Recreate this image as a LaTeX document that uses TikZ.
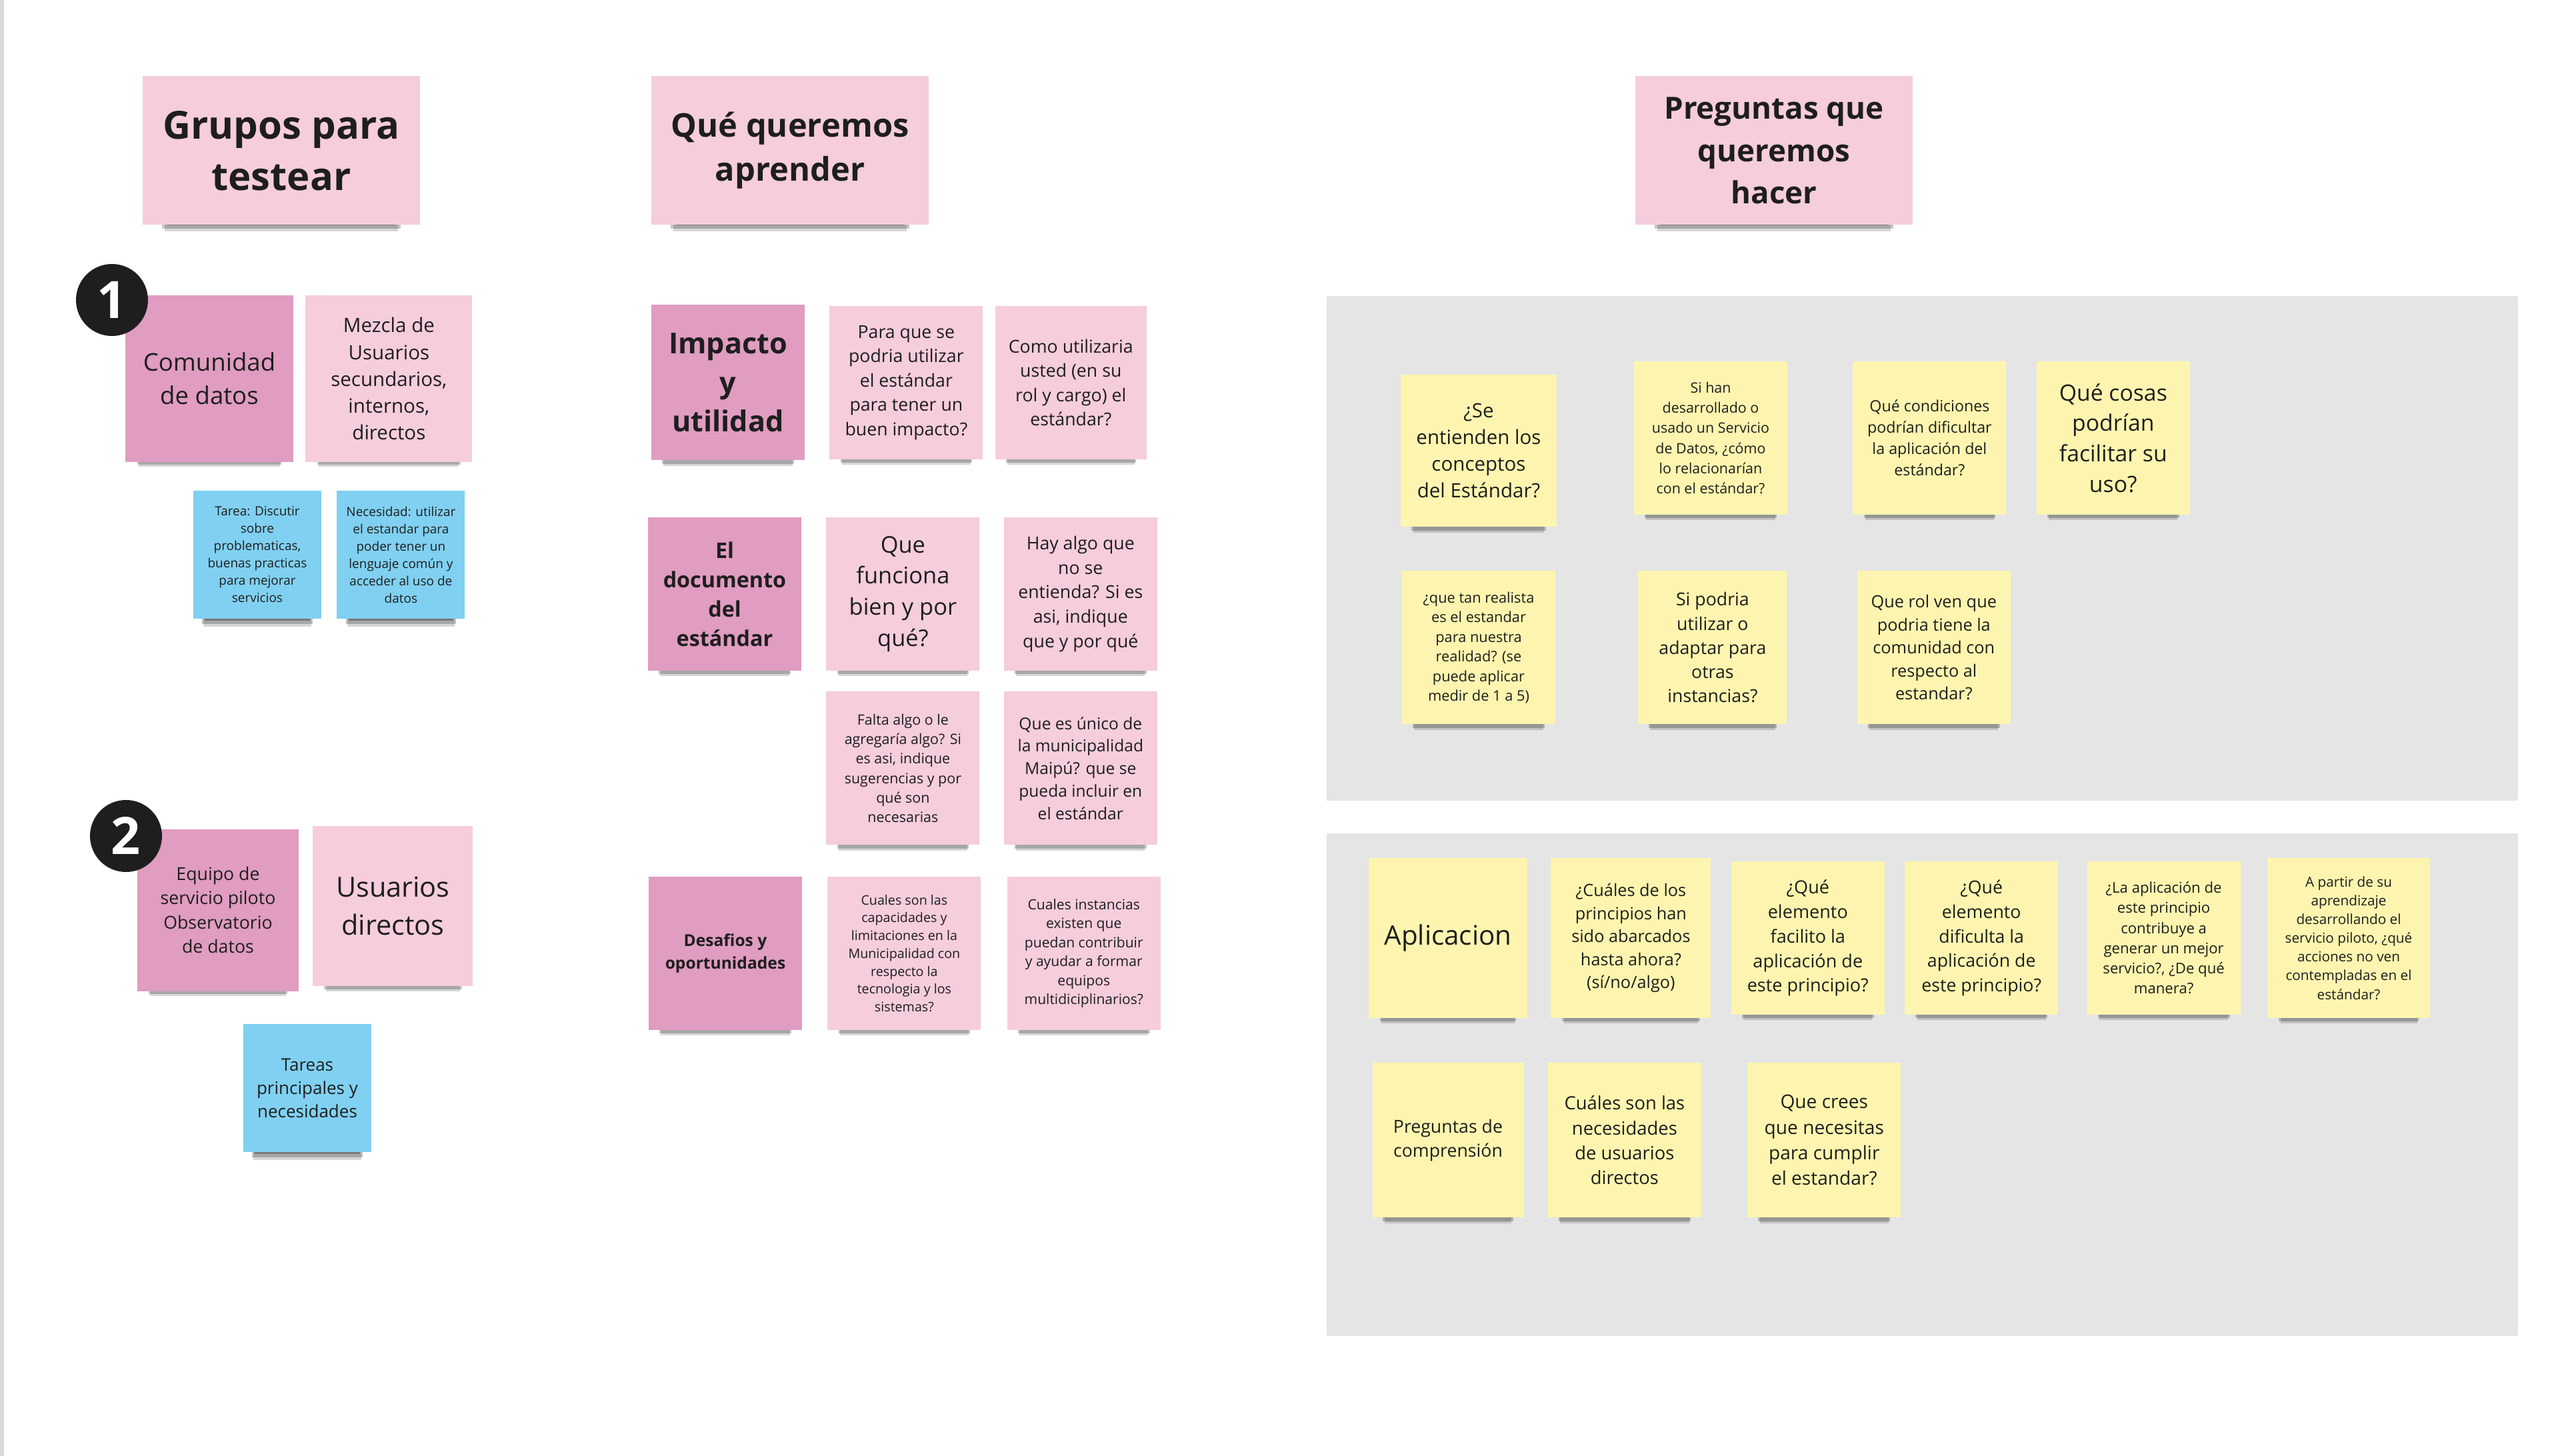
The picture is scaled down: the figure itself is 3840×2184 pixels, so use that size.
\documentclass[tikz,border=0pt]{standalone}
\usepackage{fontspec}
\setmainfont{Open Sans}
\usepackage{xcolor}
\usepackage{tikz}
\usetikzlibrary{shapes,positioning,shadows}
\definecolor{ink}{HTML}{1E1E1E}
\definecolor{notepink}{HTML}{F5CDDC}
\definecolor{noterose}{HTML}{E09CC1}
\definecolor{noteblue}{HTML}{80D0F1}
\definecolor{noteyellow}{HTML}{FDF5AF}
\definecolor{panelgray}{HTML}{E5E5E5}
\definecolor{edgegray}{HTML}{DADADA}
\newcommand{\fsz}[2]{\fontsize{#1}{#2}\selectfont}

\begin{document}
\begin{tikzpicture}[
    x=0.1mm, y=-0.1mm,
    node distance=2mm and 2mm,
    sticky/.style={rectangle, align=center, inner sep=0pt, text=ink, minimum width=23mm, minimum height=23mm,
        drop shadow={shadow xshift=0mm, shadow yshift=-3.2mm, shadow scale=0.84, fill=black, opacity=0.16},
        drop shadow={shadow xshift=0mm, shadow yshift=-2.5mm, shadow scale=0.86, fill=black, opacity=0.22},
        drop shadow={shadow xshift=0mm, shadow yshift=-2.5mm, shadow scale=0.82, fill=black, opacity=0.28}},
    pinknote/.style={sticky, fill=notepink},
    rosenote/.style={sticky, fill=noterose},
    bluenote/.style={sticky, fill=noteblue, minimum width=19.2mm, minimum height=19.2mm},
    yellownote/.style={sticky, fill=noteyellow},
    headnote/.style={pinknote, minimum width=41.6mm, minimum height=22.3mm},
    badge/.style={circle, fill=ink, text=white, minimum size=10.8mm, inner sep=0pt, font=\bfseries\fsz{22}{22}},
    panel/.style={rectangle, fill=panelgray, inner sep=0pt, anchor=north west},
]

% Background
\fill[white] (0,0) rectangle (3840,2184);
\fill[edgegray] (0,0) rectangle (6,2184);
\useasboundingbox (0,0) rectangle (3840,2184);

% Grupos para testear
\node[headnote, font=\bfseries\fsz{16.5}{22}] (tit1) at (422,226) {Grupos para\\testear};

% Grupo 1
\node[rosenote, minimum width=25.2mm, minimum height=25mm, font=\fsz{10.4}{14.2}] (com) at (314,568) {Comunidad\\de datos};
\node[pinknote, right=1.7mm of com, minimum width=25mm, minimum height=25mm, font=\fsz{8.4}{11.4}] (mez) {Mezcla de\\Usuarios\\secundarios,\\internos,\\directos};
\node[bluenote, font=\fsz{5.4}{7.4}] (tar) at (386,832) {Tarea: Discutir\\sobre\\problematicas,\\buenas practicas\\para mejorar\\servicios};
\node[bluenote, right=2.2mm of tar, font=\fsz{5.4}{7.4}] (nec) {Necesidad: utilizar\\el estandar para\\poder tener un\\lenguaje común y\\acceder al uso de\\datos};
\node[badge] (one) at (168,450) {1};

% Grupo 2
\node[rosenote, minimum width=24.2mm, minimum height=24.3mm, font=\fsz{7.6}{10.4}] (equ) at (327,1365) {Equipo de\\servicio piloto\\Observatorio\\de datos};
\node[pinknote, right=2mm of equ, yshift=0.6mm, minimum width=24mm, minimum height=24mm, font=\fsz{11.8}{16}] (usu) {Usuarios\\directos};
\node[bluenote, font=\fsz{7.4}{10}] (tas) at (461,1632) {Tareas\\principales y\\necesidades};
\node[badge] (two) at (189,1254) {2};

% Qué queremos aprender
\node[headnote, font=\bfseries\fsz{13.9}{18.8}] (tit2) at (1185,226) {Qué queremos\\aprender};

% Impacto y utilidad
\node[rosenote, minimum height=23.3mm, font=\bfseries\fsz{12.3}{16.7}] (imp) at (1092,574) {Impacto\\y\\utilidad};
\node[pinknote, right=3.6mm of imp, font=\fsz{7.6}{10.4}] (par) {Para que se\\podria utilizar\\el estándar\\para tener un\\buen impacto?};
\node[pinknote, right=1.7mm of par, minimum width=22.7mm, font=\fsz{7.6}{10.4}] (cmo) {Como utilizaria\\usted (en su\\rol y cargo) el\\estándar?};

% El documento del estándar
\node[rosenote, font=\bfseries\fsz{9.2}{12.5}] (doc) at (1087,891) {El\\documento\\del\\estándar};
\node[pinknote, right=3.6mm of doc, font=\fsz{9.8}{13.3}] (fun) {Que\\funciona\\bien y por\\qué?};
\node[pinknote, right=3.5mm of fun, font=\fsz{7.6}{10.4}] (hay) {Hay algo que\\no se\\entienda? Si es\\asi, indique\\que y por qué};
\node[pinknote, below=3mm of fun, font=\fsz{6.1}{8.3}] (fal) {Falta algo o le\\agregaría algo? Si\\es asi, indique\\sugerencias y por\\qué son\\necesarias};
\node[pinknote, below=3mm of hay, font=\fsz{7}{9.6}] (uni) {Que es único de\\la municipalidad\\Maipú? que se\\pueda incluir en\\el estándar};

% Desafios y oportunidades
\node[rosenote, font=\bfseries\fsz{7}{9.5}] (des) at (1088,1430) {Desafios y\\oportunidades};
\node[pinknote, right=3.7mm of des, font=\fsz{5.6}{7.6}] (cap) {Cuales son las\\capacidades y\\limitaciones en la\\Municipalidad con\\respecto la\\tecnologia y los\\sistemas?};
\node[pinknote, right=3.8mm of cap, font=\fsz{6}{8.1}] (ins) {Cuales instancias\\existen que\\puedan contribuir\\y ayudar a formar\\equipos\\multidiciplinarios?};

% Preguntas que queremos hacer
\node[headnote, font=\bfseries\fsz{13}{18}] (tit3) at (2661,226) {Preguntas que\\queremos\\hacer};

% Panels
\node[panel, minimum width=178.7mm, minimum height=75.7mm] (pnla) at (1989,443) {};
\node[panel, minimum width=178.7mm, minimum height=75.4mm] (pnlb) at (1989,1249) {};

% Panel A notes
\node[yellownote, minimum width=23.4mm, minimum height=22.8mm, font=\fsz{8.4}{11.4}] (qa) at (2218,676) {¿Se\\entienden los\\conceptos\\del Estándar?};
\node[yellownote, font=\fsz{6.1}{8.6}] (qb) at (2566,657) {Si han\\desarrollado o\\usado un Servicio\\de Datos, ¿cómo\\lo relacionarían\\con el estándar?};
\node[yellownote, right=9.7mm of qb, font=\fsz{6.6}{9.1}] (qc) {Qué condiciones\\podrían dificultar\\la aplicación del\\estándar?};
\node[yellownote, right=4.4mm of qc, font=\fsz{9.6}{13}] (qd) {Qué cosas\\podrían\\facilitar su\\uso?};
\node[yellownote, below=6.5mm of qa, minimum height=23mm, font=\fsz{6.2}{8.4}] (qe) {¿que tan realista\\es el estandar\\para nuestra\\realidad? (se\\puede aplicar\\medir de 1 a 5)};
\node[yellownote, right=12.3mm of qe, minimum width=22.3mm, font=\fsz{7.6}{10.3}] (qf) {Si podria\\utilizar o\\adaptar para\\otras\\instancias?};
\node[yellownote, right=10.4mm of qf, font=\fsz{7.2}{9.8}] (qg) {Que rol ven que\\podria tiene la\\comunidad con\\respecto al\\estandar?};

% Panel B notes
\node[yellownote, minimum width=23.8mm, minimum height=24mm, font=\fsz{11.5}{15}] (apl) at (2172,1407) {Aplicacion};
\node[yellownote, right=3.4mm of apl, minimum width=24mm, minimum height=24mm, font=\fsz{7.2}{9.8}] (pa) {¿Cuáles de los\\principios han\\sido abarcados\\hasta ahora?\\(sí/no/algo)};
\node[yellownote, right=2.9mm of pa, font=\fsz{7.7}{10.5}] (pb) {¿Qué\\elemento\\facilito la\\aplicación de\\este principio?};
\node[yellownote, right=2.9mm of pb, font=\fsz{7.6}{10.4}] (pc) {¿Qué\\elemento\\dificulta la\\aplicación de\\este principio?};
\node[yellownote, right=4.2mm of pc, font=\fsz{6.3}{8.6}] (pd) {¿La aplicación de\\este principio\\contribuye a\\generar un mejor\\servicio?, ¿De qué\\manera?};
\node[yellownote, right=3.9mm of pd, minimum width=24.4mm, minimum height=24mm, font=\fsz{5.9}{8}] (pe) {A partir de su\\aprendizaje\\desarrollando el\\servicio piloto, ¿qué\\acciones no ven\\contempladas en el\\estándar?};
\node[yellownote, below=6.6mm of apl, minimum width=22.7mm, minimum height=23.2mm, font=\fsz{7.6}{10.4}] (cpa) {Preguntas de\\comprensión};
\node[yellownote, right=3.5mm of cpa, minimum height=23.2mm, font=\fsz{7.8}{10.6}] (cpb) {Cuáles son las\\necesidades\\de usuarios\\directos};
\node[yellownote, right=6.8mm of cpb, minimum height=23.2mm, font=\fsz{8}{10.9}] (cpc) {Que crees\\que necesitas\\para cumplir\\el estandar?};

\end{tikzpicture}
\end{document}
